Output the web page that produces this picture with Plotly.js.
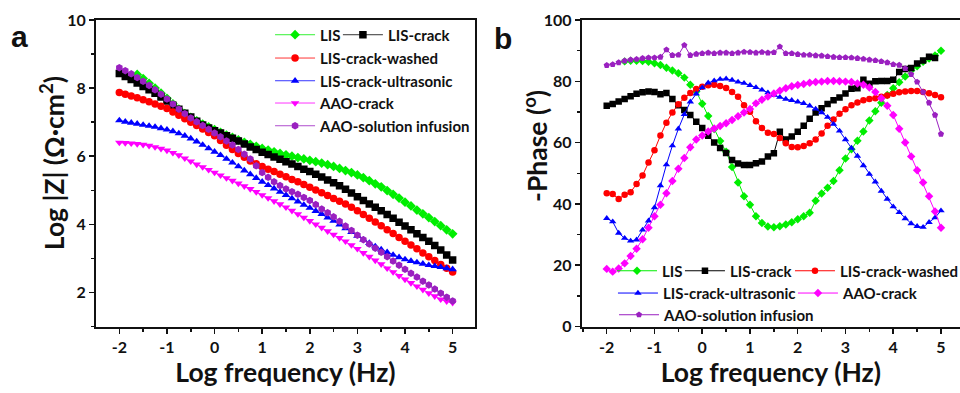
<!DOCTYPE html>
<html><head><meta charset="utf-8">
<script src="https://cdn.plot.ly/plotly-3.0.1.min.js"></script>
<style>html,body{margin:0;padding:0;background:#fff;}#chart{width:960px;height:393px;}</style>
</head><body><div id="chart"></div>
<script>
const logFreq = [-2, -1.875, -1.75, -1.625, -1.5, -1.375, -1.25, -1.125,
  -1, -0.875, -0.75, -0.625, -0.5, -0.375, -0.25, -0.125,
  0, 0.125, 0.25, 0.375, 0.5, 0.625, 0.75, 0.875,
  1, 1.125, 1.25, 1.375, 1.5, 1.625, 1.75, 1.875,
  2, 2.125, 2.25, 2.375, 2.5, 2.625, 2.75, 2.875,
  3, 3.125, 3.25, 3.375, 3.5, 3.625, 3.75, 3.875,
  4, 4.125, 4.25, 4.375, 4.5, 4.625, 4.75, 4.875,
  5];

const xTickVals = [-2, -1, 0, 1, 2, 3, 4, 5];
const xTickText = ['-2', '-1', '0', '1', '2', '3', '4', '5'];

const seriesNames = ['LIS', 'LIS-crack', 'LIS-crack-washed', 'LIS-crack-ultrasonic', 'AAO-crack', 'AAO-solution infusion'];

// Panel a: Log |Z|
const lisMag = [null, null, null, 8.4, 8.28, 8.14, 8.0, 7.85,
  7.7, 7.54, 7.38, 7.25, 7.14, 7.04, 6.94, 6.86,
  6.78, 6.7, 6.62, 6.55, 6.48, 6.41, 6.35, 6.29,
  6.23, 6.18, 6.13, 6.08, 6.04, 6.0, 5.96, 5.92,
  5.88, 5.84, 5.8, 5.75, 5.7, 5.64, 5.58, 5.52,
  5.45, 5.37, 5.28, 5.19, 5.1, 4.99, 4.88, 4.77,
  4.65, 4.54, 4.42, 4.31, 4.2, 4.08, 3.96, 3.84,
  3.72];
const crackMag = [8.43, 8.34, 8.25, 8.15, 8.05, 7.95, 7.85, 7.74,
  7.62, 7.5, 7.38, 7.26, 7.15, 7.03, 6.92, 6.83,
  6.75, 6.68, 6.6, 6.53, 6.45, 6.36, 6.27, 6.2,
  6.12, 6.05, 5.98, 5.91, 5.84, 5.77, 5.7, 5.62,
  5.55, 5.47, 5.39, 5.3, 5.22, 5.13, 5.03, 4.92,
  4.81, 4.7, 4.6, 4.5, 4.4, 4.29, 4.18, 4.06,
  3.95, 3.84, 3.72, 3.61, 3.5, 3.38, 3.25, 3.1,
  2.95];
const washedMag = [7.87, 7.82, 7.77, 7.72, 7.66, 7.6, 7.53, 7.47,
  7.4, 7.3, 7.2, 7.1, 7.0, 6.9, 6.8, 6.7,
  6.6, 6.46, 6.32, 6.2, 6.08, 5.97, 5.86, 5.78,
  5.7, 5.62, 5.55, 5.47, 5.4, 5.32, 5.25, 5.17,
  5.09, 5.01, 4.93, 4.85, 4.76, 4.68, 4.6, 4.5,
  4.4, 4.29, 4.18, 4.07, 3.96, 3.84, 3.73, 3.61,
  3.5, 3.39, 3.28, 3.16, 3.05, 2.94, 2.82, 2.71,
  2.6];
const ultraMag = [7.05, 7.01, 6.98, 6.95, 6.92, 6.89, 6.86, 6.82,
  6.78, 6.73, 6.67, 6.6, 6.52, 6.43, 6.33, 6.23,
  6.13, 6.03, 5.92, 5.81, 5.7, 5.58, 5.47, 5.36,
  5.25, 5.15, 5.05, 4.95, 4.86, 4.76, 4.67, 4.57,
  4.48, 4.39, 4.3, 4.2, 4.1, 3.99, 3.88, 3.77,
  3.66, 3.55, 3.45, 3.35, 3.26, 3.18, 3.1, 3.03,
  2.97, 2.92, 2.88, 2.84, 2.8, 2.77, 2.74, 2.71,
  2.68];
const aaoCrackMag = [6.4, 6.39, 6.38, 6.36, 6.34, 6.31, 6.27, 6.22,
  6.17, 6.1, 6.03, 5.94, 5.85, 5.76, 5.68, 5.6,
  5.52, 5.44, 5.36, 5.28, 5.2, 5.12, 5.04, 4.95,
  4.86, 4.77, 4.68, 4.59, 4.5, 4.4, 4.3, 4.2,
  4.1, 4.0, 3.9, 3.8, 3.7, 3.6, 3.5, 3.39,
  3.28, 3.16, 3.05, 2.94, 2.83, 2.71, 2.6, 2.49,
  2.38, 2.28, 2.18, 2.08, 1.98, 1.89, 1.8, 1.74,
  1.7];
const aaoInfMag = [8.6, 8.51, 8.42, 8.31, 8.2, 8.08, 7.95, 7.82,
  7.68, 7.53, 7.38, 7.25, 7.12, 7.01, 6.9, 6.79,
  6.68, 6.57, 6.45, 6.33, 6.2, 6.06, 5.92, 5.72,
  5.52, 5.38, 5.25, 5.14, 5.04, 4.96, 4.88, 4.79,
  4.7, 4.58, 4.45, 4.34, 4.22, 4.09, 3.95, 3.82,
  3.68, 3.55, 3.42, 3.3, 3.18, 3.05, 2.92, 2.8,
  2.68, 2.56, 2.45, 2.33, 2.22, 2.1, 1.98, 1.86,
  1.75];

// Panel b: -Phase
const lisPhase = [null, null, null, 86.5, 86.7, 86.7, 86.6, 86.4,
  85.9, 85.3, 84.4, 83.5, 82.6, 81.2, 78.9, 76.7,
  72.7, 68.7, 64.4, 60.5, 57, 52, 47, 42.5,
  39.7, 36, 33.8, 32.6, 32.4, 32.7, 33.3, 34,
  35, 36, 37.1, 41, 43.4, 45.3, 47.5, 51,
  54.8, 57.8, 60.6, 63.6, 67.2, 70.2, 73, 75.5,
  77.7, 79.7, 81.6, 83.5, 84.9, 86.4, 87.4, 88.4,
  90];
const crackPhase = [72, 72.6, 73.4, 74.2, 75.1, 75.9, 76.4, 76.7,
  76.5, 75.8, 76.2, 74.2, 72.2, 70.6, 69, 66.8,
  64.8, 62.2, 60, 58.2, 56.6, 54.3, 53.2, 52.7,
  52.7, 53.3, 53.8, 55.5, 56.5, 63.5, 61, 62,
  63.5, 65.5, 67.8, 69.8, 71.2, 72.6, 73.8, 74.7,
  76, 77.6, 77.7, 80.5, 79.2, 80, 80.1, 80.1,
  80.5, 83, 84, 84.3, 85.8, 86.8, 88, 87.6,
  null];
const washedPhase = [43.5, 43.2, 41.6, 43, 43.8, 46.5, 49.3, 53.5,
  57.5, 62.3, 66.5, 69.8, 72.5, 74.6, 76.2, 77.5,
  78.2, 78.7, 78.9, 78.5, 77.8, 76.5, 75, 72.2,
  70.1, 67, 64.8, 63.2, 62.8, 61.5, 59.8, 58.6,
  58.5, 58.9, 59.8, 61, 63, 65.5, 67.5, 69.4,
  70.9, 72.2, 73.1, 73.8, 74.2, 74.5, 75, 75.4,
  75.9, 76.4, 76.7, 76.8, 76.8, 76.5, 76.1, 75.5,
  74.8];
const ultraPhase = [35.3, 34.2, 30.5, 28.8, 27.9, 28.3, 31.5, 34.5,
  38.8, 46, 52.8, 59, 64.5, 69.2, 73.3, 75.9,
  77.9, 79.5, 80.2, 80.7, 80.8, 80.4, 79.8, 79.4,
  78.7, 78, 77.2, 76.3, 75.5, 74.8, 74.2, 73.8,
  73.3, 72.8, 72, 71, 69.8, 68.3, 66, 63.8,
  61, 58.2, 55.6, 52.5, 49.7, 47.2, 44.2, 41.6,
  39.1, 37.2, 35.2, 33.6, 32.7, 32.4, 34, 35.5,
  37.8];
const aaoCrackPhase = [18.8, 17.9, 18.9, 20.6, 23, 25.4, 28.5, 32.2,
  36, 39.7, 43.5, 47.5, 51.5, 55, 58.5, 61,
  62.3, 63.6, 64.6, 65.4, 66.3, 67.4, 68.6, 69.8,
  71, 72.8, 74, 75, 76, 76.9, 77.7, 78.4,
  78.8, 79.1, 79.5, 79.8, 79.9, 80.1, 80.1, 80,
  79.9, 79.8, 79.3, 78.9, 78, 76.5, 74.5, 72,
  69, 64.5, 60, 55.5, 51, 47, 42.5, 37.5,
  32.2];
const aaoInfPhase = [85.2, 85.5, 86.1, 86.7, 87, 87.2, 87.5, 87.7,
  87.7, 87.9, 90.3, 88.5, 88.6, 91.8, 88.5, 88.9,
  89.1, 89.3, 89.1, 89.3, 89.3, 89.1, 89.3, 89.6,
  89.5, 89.3, 89.5, 89.3, 89.4, 91.3, 89.1, 89.1,
  88.8, 88.6, 88.6, 88.4, 88.3, 88.1, 87.9, 87.8,
  87.8, 87.7, 87.5, 87.3, 87, 86.8, 86.5, 86.1,
  85.5, 85.3, 84.2, 82.3, 79.8, 76.5, 73, 69,
  62.8];

const magSeries = [lisMag, crackMag, washedMag, ultraMag, aaoCrackMag, aaoInfMag];
const phaseSeries = [lisPhase, crackPhase, washedPhase, ultraPhase, aaoCrackPhase, aaoInfPhase];

const colors = ['#00ee00', '#000000', '#ff0000', '#0000ff', '#ff00ff', '#9a20c0'];
const symbolsA = ['diamond', 'square', 'circle', 'triangle-up', 'triangle-down', 'hexagon'];
const symbolsB = ['diamond', 'square', 'circle', 'triangle-up', 'diamond', 'pentagon'];

// legend anchor positions (paper coords)
const legendPosA = [[0.2813, 0.911], [0.352, 0.911], [0.2813, 0.8517], [0.2813, 0.7939], [0.2813, 0.7372], [0.2813, 0.6794]];
const legendPosB = [[0.6375, 0.3104], [0.7083, 0.3104], [0.8229, 0.3104], [0.6385, 0.2537], [0.826, 0.2537], [0.6396, 0.1985]];

const FONT = 'Lato, "Open Sans", sans-serif';
const traces = [];
const layout = {
  width: 960, height: 393,
  margin: {l: 0, r: 0, t: 0, b: 0, autoexpand: false},
  paper_bgcolor: '#fff', plot_bgcolor: '#fff',
  showlegend: true,
  font: {family: FONT, color: '#111'}
};

function legendCfg(p) {
  return {x: p[0], y: p[1], xref: 'paper', yref: 'paper', xanchor: 'left', yanchor: 'middle',
    bgcolor: 'rgba(0,0,0,0)', borderwidth: 0, orientation: 'v', itemwidth: 40,
    font: {family: FONT, size: 15, weight: 'bold', color: '#111'}};
}

let li = 1;
seriesNames.forEach((name, i) => {
  const key = li === 1 ? 'legend' : 'legend' + li;
  layout[key] = legendCfg(legendPosA[i]);
  traces.push({x: logFreq, y: magSeries[i], name: name, type: 'scatter', mode: 'lines+markers',
    xaxis: 'x', yaxis: 'y', legend: key,
    line: {color: colors[i], width: 0.8},
    marker: {color: colors[i], symbol: symbolsA[i], size: 7.5}});
  li++;
});
seriesNames.forEach((name, i) => {
  const key = 'legend' + li;
  layout[key] = legendCfg(legendPosB[i]);
  traces.push({x: logFreq, y: phaseSeries[i], name: name, type: 'scatter', mode: 'lines+markers',
    xaxis: 'x2', yaxis: 'y2', legend: key,
    line: {color: colors[i], width: 1},
    marker: {color: colors[i], symbol: symbolsB[i], size: 6.5}});
  li++;
});

const tickFont = {family: FONT, size: 16, weight: 'bold', color: '#111'};
const titleFont = {family: FONT, size: 26.5, weight: 'bold', color: '#111'};
function axisBase() {
  return {showgrid: false, zeroline: false, showline: true, linecolor: '#111', linewidth: 2,
    ticks: 'outside', ticklen: 5, tickwidth: 1.5, tickcolor: '#111', tickfont: tickFont, mirror: true};
}
const yDomain = [0.1692, 0.9491];

layout.xaxis = Object.assign(axisBase(), {domain: [0.1, 0.4948], range: [-2.49, 5.47],
  tickmode: 'array', tickvals: xTickVals, ticktext: xTickText,
  anchor: 'y', minor: {dtick: 0.5, tick0: 0, ticks: 'outside', ticklen: 3, tickwidth: 1.5, tickcolor: '#111', showgrid: false},
  title: {text: 'Log frequency (Hz)', font: titleFont, standoff: 4}});
layout.yaxis = Object.assign(axisBase(), {domain: yDomain, range: [1, 10], dtick: 2, tick0: 0,
  anchor: 'x', minor: {dtick: 1, ticks: 'outside', ticklen: 3, tickwidth: 1.5, tickcolor: '#111', showgrid: false}});
layout.xaxis2 = Object.assign(axisBase(), {domain: [0.606, 1], range: [-2.523, 5.398],
  tickmode: 'array', tickvals: xTickVals, ticktext: xTickText,
  anchor: 'y2', minor: {dtick: 0.5, tick0: 0, ticks: 'outside', ticklen: 3, tickwidth: 1.5, tickcolor: '#111', showgrid: false},
  title: {text: 'Log frequency (Hz)', font: titleFont, standoff: 4}});
layout.yaxis2 = Object.assign(axisBase(), {domain: yDomain, range: [0, 100], dtick: 20, tick0: 0, mirror: false,
  anchor: 'x2', minor: {dtick: 10, ticks: 'outside', ticklen: 3, tickwidth: 1.5, tickcolor: '#111', showgrid: false}});

layout.annotations = [
  {text: 'a', x: 0.0198, y: 0.908, xref: 'paper', yref: 'paper', showarrow: false,
    xanchor: 'center', yanchor: 'middle', font: {family: '"Liberation Sans", Arial, sans-serif', size: 30, weight: 'bold', color: '#111'}},
  {text: 'b', x: 0.524, y: 0.903, xref: 'paper', yref: 'paper', showarrow: false,
    xanchor: 'center', yanchor: 'middle', font: {family: '"Liberation Sans", Arial, sans-serif', size: 30, weight: 'bold', color: '#111'}},
  {text: 'Log |Z| (Ω·cm<sup>2</sup>)', x: 0.0542, y: 0.585, xref: 'paper', yref: 'paper', showarrow: false,
    textangle: -90, xanchor: 'center', yanchor: 'middle', font: titleFont},
  {text: '-Phase (<sup>o</sup>)', x: 0.5583, y: 0.6285, xref: 'paper', yref: 'paper', showarrow: false,
    textangle: -90, xanchor: 'center', yanchor: 'middle', font: titleFont}
];

Plotly.newPlot('chart', traces, layout, {displayModeBar: false, staticPlot: true});
</script>
</body></html>
